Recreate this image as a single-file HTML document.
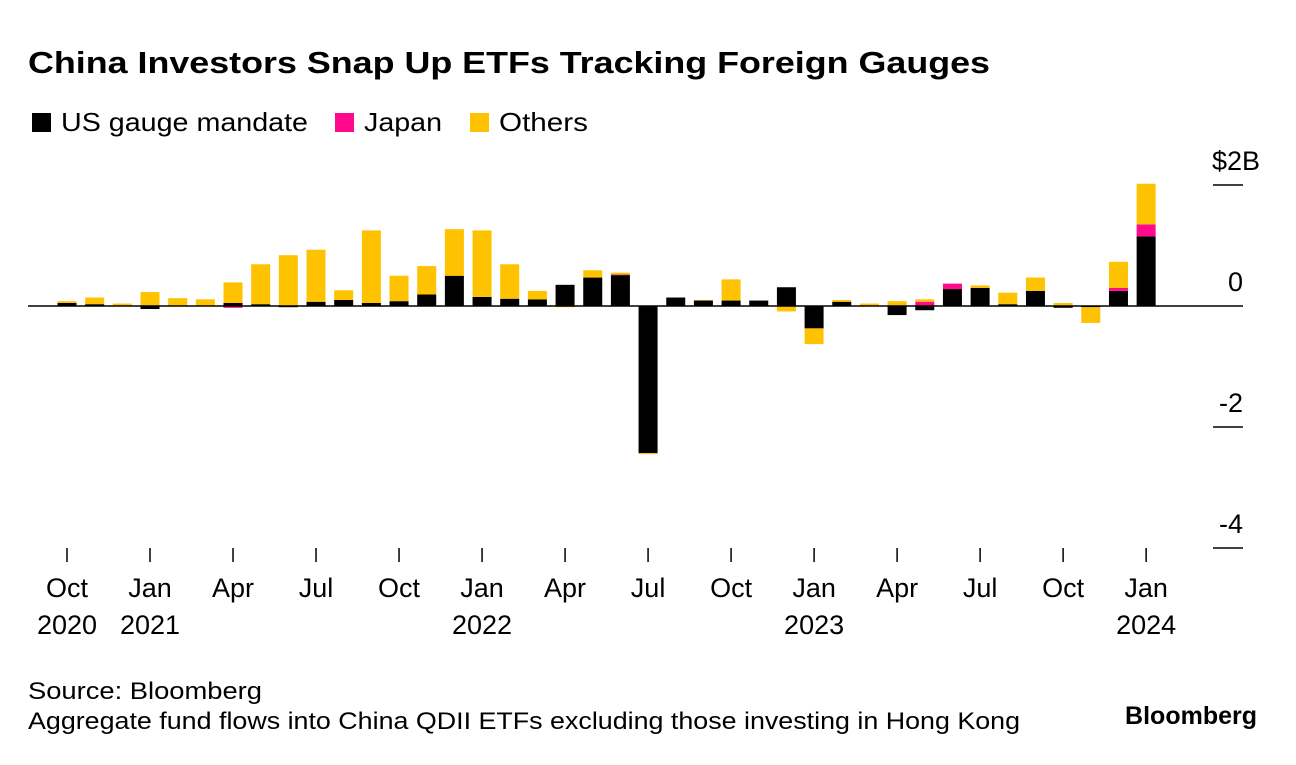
<!DOCTYPE html>
<html><head><meta charset="utf-8"><style>
body{margin:0;background:#fff;width:1296px;height:760px;overflow:hidden;font-family:"Liberation Sans",sans-serif;}
svg text{font-family:"Liberation Sans",sans-serif;}
</style></head><body>
<svg width="1296" height="760">
<text x="28" y="73" font-size="31" font-weight="bold" fill="#000" textLength="962" lengthAdjust="spacingAndGlyphs">China Investors Snap Up ETFs Tracking Foreign Gauges</text>
<g>
<rect x="32" y="113" width="19" height="19" fill="#000"/>
<text x="61" y="131" font-size="26" textLength="247" lengthAdjust="spacingAndGlyphs">US gauge mandate</text>
<rect x="335" y="113" width="19" height="19" fill="#ff0a8c"/>
<text x="364" y="131" font-size="26" textLength="78" lengthAdjust="spacingAndGlyphs">Japan</text>
<rect x="470" y="113" width="19" height="19" fill="#ffc200"/>
<text x="499" y="131" font-size="26" textLength="89" lengthAdjust="spacingAndGlyphs">Others</text>
</g>
<g id="bars"></g>
<g id="axes"></g>
<text x="28" y="699" font-size="24" textLength="234" lengthAdjust="spacingAndGlyphs">Source: Bloomberg</text>
<text x="28" y="729" font-size="24" textLength="992" lengthAdjust="spacingAndGlyphs">Aggregate fund flows into China QDII ETFs excluding those investing in Hong Kong</text>
<text x="1257" y="724" font-size="25" font-weight="bold" text-anchor="end">Bloomberg</text>
</svg>
<script>
const usVals=[0.05,0.03,0,-0.05,0,0,0.05,0.03,-0.02,0.07,0.1,0.05,0.08,0.19,0.5,0.15,0.12,0.11,0.35,0.47,0.51,-2.43,0.14,0.09,0.09,0.09,0.31,-0.37,0.07,0,-0.15,-0.07,0.28,0.3,0.03,0.25,-0.03,-0.02,0.25,1.15];
const japanVals=[0,0,0,0,0,0,-0.03,0,0,0,0,0,0,0,0,0,0,0,0,0,0.01,0,0,0,0,0,0,0,0,0,0,0.07,0.09,0,0,0,0,0,0.05,0.2];
const othersVals=[0.03,0.11,0.04,0.23,0.13,0.11,0.34,0.66,0.84,0.86,0.16,1.2,0.42,0.47,0.77,1.1,0.57,0.14,-0.02,0.12,0.03,-0.02,0,0.01,0.35,0,-0.09,-0.26,0.03,0.04,0.08,0.04,0,0.04,0.19,0.22,0.05,-0.26,0.43,0.67];
const yTicks=[2,0,-2,-4];
const yTickLabels=["$2B","0","-2","-4"];
const xTickMonths=[0,3,6,9,12,15,18,21,24,27,30,33,36,39];
const xTickLabels=[["Oct","2020"],["Jan","2021"],["Apr",""],["Jul",""],["Oct",""],["Jan","2022"],["Apr",""],["Jul",""],["Oct",""],["Jan","2023"],["Apr",""],["Jul",""],["Oct",""],["Jan","2024"]];
const NS="http://www.w3.org/2000/svg";
const y=v=>306-v*60.5;
const x=i=>67+i*27.67;
const bw=19;
const bars=document.getElementById('bars');
const axes=document.getElementById('axes');
function rect(x0,y0,w,h,fill,name){const r=document.createElementNS(NS,'rect');r.setAttribute('x',x0);r.setAttribute('y',y0);r.setAttribute('width',w);r.setAttribute('height',Math.max(h,0));r.setAttribute('fill',fill);


return r;}
const series=[[usVals,'#000','us'],[japanVals,'#ff0a8c','japan'],[othersVals,'#ffc200','others']];
for(let i=0;i<usVals.length;i++){let pos=0,neg=0;
for(const [arr,col,nm] of series){const v=arr[i];if(!v)continue;
if(v>0){bars.appendChild(rect(x(i)-bw/2,y(pos+v),bw,y(pos)-y(pos+v),col,'bar-'+nm+'-'+i));pos+=v;}
else{bars.appendChild(rect(x(i)-bw/2,y(neg),bw,y(neg+v)-y(neg),col,'bar-'+nm+'-'+i));neg+=v;}}}
function line(x1,y1,x2,y2,name,w){const l=document.createElementNS(NS,'line');l.setAttribute('x1',x1);l.setAttribute('y1',y1);l.setAttribute('x2',x2);l.setAttribute('y2',y2);l.setAttribute('stroke','#000');l.setAttribute('stroke-width',w||1.5);


axes.appendChild(l);}
function text(tx,ty,s,anchor,name,fs){const t=document.createElementNS(NS,'text');t.setAttribute('x',tx);t.setAttribute('y',ty);t.setAttribute('font-size',fs||'27');t.setAttribute('text-anchor',anchor);t.textContent=s;


axes.appendChild(t);}
line(28,306,1243,306,'zero-line',1.5);
yTicks.forEach((v,k)=>{if(v!==0)line(1213,y(v),1243,y(v),'y-tick',1.5);
if(k===0)text(1212,y(v)-15,yTickLabels[k],'start','y-tick-label');
else text(1243,y(v)-15,yTickLabels[k],'end','y-tick-label');});
xTickMonths.forEach((m,k)=>{line(x(m),548,x(m),562,'x-tick',1.5);text(x(m),597,xTickLabels[k][0],'middle','x-tick-label');if(xTickLabels[k][1])text(x(m),634,xTickLabels[k][1],'middle','x-tick-year');});
</script>
</body></html>
